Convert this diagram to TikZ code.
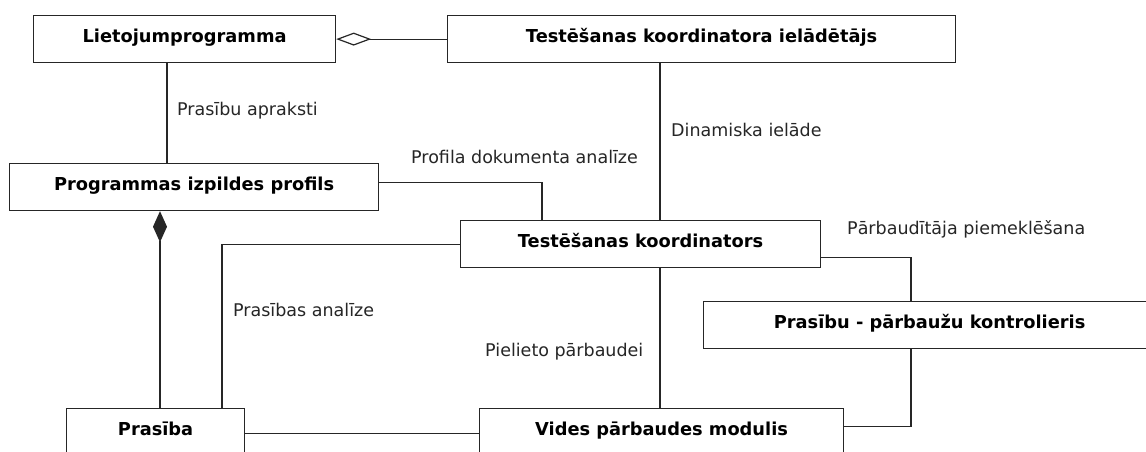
\documentclass[tikz,border=0pt]{standalone}
\usepackage{fontspec}
\setmainfont{DejaVu Sans}
\usetikzlibrary{arrows.meta}
\begin{document}
\begin{tikzpicture}[x=1pt,y=-1pt,
  box/.style={draw=black!85, line width=1.2pt, fill=white, inner sep=0pt,
    text height=27pt, text depth=20pt, anchor=north west,
    font=\bfseries\fontsize{17.8}{20}\selectfont},
  lbl/.style={inner sep=0pt, anchor=base west, text=black!85,
    font=\fontsize{17.5}{20}\selectfont},
  conn/.style={draw=black!85, line width=1.2pt}]
\useasboundingbox (0,0) rectangle (1146,451);
\clip (0,0) rectangle (1146,451);
\fill[white] (0,0) rectangle (1146,451);

\node[box, minimum width=302pt] (A) at (33,15) {Lietojumprogramma};
\node[box, minimum width=508pt] (B) at (447,15) {Testēšanas koordinatora ielādētājs};
\node[box, minimum width=369pt] (C) at (9,163) {Programmas izpildes profils};
\node[box, minimum width=360pt] (D) at (460,220) {Testēšanas koordinators};
\node[box, minimum width=452pt] (E) at (703,301) {Prasību - pārbaužu kontrolieris};
\node[box, minimum width=178pt] (F) at (66,408) {Prasība};
\node[box, minimum width=364pt] (G) at (479,408) {Vides pārbaudes modulis};

\draw[conn, {Diamond[open, length=35pt, width=13pt]}-] (A.east) -- (B.west);
\draw[conn] ([xshift=134pt]A.south west) -- ([xshift=158pt]C.north west);
\draw[conn, {Diamond[length=31pt, width=14pt]}-] ([xshift=151pt]C.south west) -- ([xshift=94pt]F.north west);
\draw[conn] ([yshift=4.5pt]C.east) -| ([xshift=82pt]D.north west);
\draw[conn] ([xshift=213pt]B.south west) -- ([xshift=200pt]D.north west);
\draw[conn] (D.west) -| ([xshift=156pt]F.north west);
\draw[conn] ([xshift=200pt]D.south west) -- ([xshift=181pt]G.north west);
\draw[conn] ([yshift=-13.5pt]D.east) -| ([xshift=208pt]E.north west);
\draw[conn] ([xshift=208pt]E.south west) |- ([yshift=6pt]G.east);
\draw[conn] ([yshift=-1.5pt]F.east) -- ([yshift=-1.5pt]G.west);

\node[lbl] (l1) at (177,115) {Prasību apraksti};
\node[lbl] (l2) at (671,136) {Dinamiska ielāde};
\node[lbl] (l3) at (411,163) {Profila dokumenta analīze};
\node[lbl] (l4) at (847,234) {Pārbaudītāja piemeklēšana};
\node[lbl] (l5) at (233,316) {Prasības analīze};
\node[lbl] (l6) at (485,356) {Pielieto pārbaudei};
\end{tikzpicture}
\end{document}
